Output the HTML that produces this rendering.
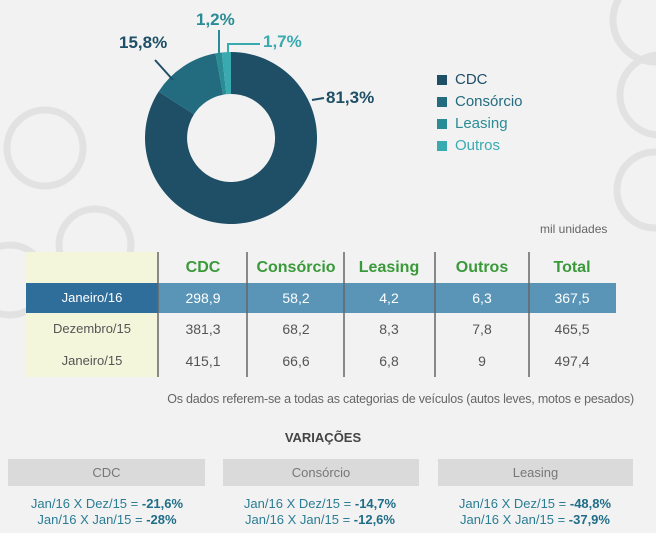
<!DOCTYPE html>
<html><head><meta charset="utf-8"><style>
body{margin:0;width:656px;height:533px;background:#f2f2f2;font-family:"Liberation Sans",sans-serif;overflow:hidden;position:relative}
.a{position:absolute;white-space:nowrap}
.h{color:#3a9a3a;font-weight:bold;font-size:16px;text-align:center;width:90px;margin-left:-45px}
.d{font-size:14px;color:#555;text-align:center;width:90px;margin-left:-45px}
.w{color:#fff}
.gb{position:absolute;background:#dadada;color:#777;font-size:13px;text-align:center;line-height:27px;top:459px;height:27px}
.v{font-size:13px;color:#2a7d95;text-align:center;width:200px;margin-left:-100px}
.v b{color:#1f6d88}
</style></head><body>
<svg class="a" style="left:0;top:0" width="656" height="533">
<g fill="none" stroke="#e2e2e2" stroke-width="7">
<circle cx="45" cy="148" r="38"/><circle cx="95" cy="245" r="36"/><circle cx="655" cy="20" r="42"/><circle cx="660" cy="95" r="40"/><circle cx="655" cy="190" r="38"/><circle cx="10" cy="280" r="35"/>
</g>
<g transform="translate(231,138)">
<path d="M0,-86 A86,86 0 1 1 -72.4,-46.4 L-37,-23.7 A44,44 0 1 0 0,-44Z" fill="#1e4f66"/>
<path d="M-72.4,-46.4 A86,86 0 0 1 -15.5,-84.6 L-7.9,-43.3 A44,44 0 0 0 -37,-23.7Z" fill="#236c80"/>
<path d="M-15.5,-84.6 A86,86 0 0 1 -9.2,-85.5 L-4.7,-43.7 A44,44 0 0 0 -7.9,-43.3Z" fill="#2a8c95"/>
<path d="M-9.2,-85.5 A86,86 0 0 1 0,-86 L0,-44 A44,44 0 0 0 -4.7,-43.7Z" fill="#38aab0"/>
</g>
<g stroke-width="2" fill="none">
<path d="M155,60 L173,80" stroke="#1e4f66"/>
<path d="M219,30 L219,55" stroke="#2a8c95"/>
<path d="M228,56 L228,44 L260,44" stroke="#38aab0"/>
<path d="M312,100 L324,98" stroke="#1e4f66"/>
</g>
<rect x="437" y="75" width="10" height="10" fill="#1e4f66"/>
<rect x="437" y="97" width="10" height="10" fill="#236c80"/>
<rect x="437" y="119" width="10" height="10" fill="#2a8c95"/>
<rect x="437" y="141" width="10" height="10" fill="#38aab0"/>
<rect x="26" y="252" width="132" height="125" fill="#f4f6dc"/>
<rect x="26" y="283" width="590" height="30" fill="#5a95b8"/>
<rect x="26" y="283" width="132" height="30" fill="#2f6d9a"/>
<g stroke="#666" stroke-width="1.5">
<line x1="158" y1="252" x2="158" y2="377"/><line x1="247" y1="252" x2="247" y2="377"/><line x1="344" y1="252" x2="344" y2="377"/><line x1="435" y1="252" x2="435" y2="377"/><line x1="529" y1="252" x2="529" y2="377"/>
</g>
</svg>
<div class="a" style="left:119px;top:33px;font-size:17px;font-weight:bold;color:#1e4f66">15,8%</div>
<div class="a" style="left:196px;top:10px;font-size:17px;font-weight:bold;color:#2a8c95">1,2%</div>
<div class="a" style="left:263px;top:32px;font-size:17px;font-weight:bold;color:#38aab0">1,7%</div>
<div class="a" style="left:326px;top:88px;font-size:17px;font-weight:bold;color:#1e4f66">81,3%</div>
<div class="a" style="left:455px;top:71px;font-size:15px;color:#1e4f66">CDC</div>
<div class="a" style="left:455px;top:93px;font-size:15px;color:#236c80">Consórcio</div>
<div class="a" style="left:455px;top:115px;font-size:15px;color:#2a8c95">Leasing</div>
<div class="a" style="left:455px;top:137px;font-size:15px;color:#38aab0">Outros</div>
<div class="a" style="left:540px;top:222px;font-size:12px;color:#666">mil unidades</div>
<div class="a h" style="left:203px;top:259px">CDC</div>
<div class="a h" style="left:296px;top:259px">Consórcio</div>
<div class="a h" style="left:389px;top:259px">Leasing</div>
<div class="a h" style="left:482px;top:259px">Outros</div>
<div class="a h" style="left:572px;top:259px">Total</div>
<div class="a d w" style="left:92px;top:290px;font-size:13px">Janeiro/16</div>
<div class="a d w" style="left:203px;top:290px">298,9</div><div class="a d w" style="left:296px;top:290px">58,2</div><div class="a d w" style="left:389px;top:290px">4,2</div><div class="a d w" style="left:482px;top:290px">6,3</div><div class="a d w" style="left:572px;top:290px">367,5</div>
<div class="a d" style="left:92px;top:321px;font-size:13px">Dezembro/15</div>
<div class="a d" style="left:203px;top:321px">381,3</div><div class="a d" style="left:296px;top:321px">68,2</div><div class="a d" style="left:389px;top:321px">8,3</div><div class="a d" style="left:482px;top:321px">7,8</div><div class="a d" style="left:572px;top:321px">465,5</div>
<div class="a d" style="left:92px;top:353px;font-size:13px">Janeiro/15</div>
<div class="a d" style="left:203px;top:353px">415,1</div><div class="a d" style="left:296px;top:353px">66,6</div><div class="a d" style="left:389px;top:353px">6,8</div><div class="a d" style="left:482px;top:353px">9</div><div class="a d" style="left:572px;top:353px">497,4</div>
<div class="a" style="right:22px;top:392px;font-size:12.5px;color:#666;letter-spacing:-0.2px">Os dados referem-se a todas as categorias de veículos (autos leves, motos e pesados)</div>
<div class="a" style="left:323px;top:430px;width:100px;margin-left:-50px;text-align:center;font-size:13px;font-weight:bold;color:#444">VARIAÇÕES</div>
<div class="gb" style="left:8px;width:197px">CDC</div>
<div class="gb" style="left:223px;width:196px">Consórcio</div>
<div class="gb" style="left:438px;width:195px">Leasing</div>
<div class="a v" style="left:107px;top:496px">Jan/16 X Dez/15 = <b>-21,6%</b></div>
<div class="a v" style="left:107px;top:512px">Jan/16 X Jan/15 = <b>-28%</b></div>
<div class="a v" style="left:320px;top:496px">Jan/16 X Dez/15 = <b>-14,7%</b></div>
<div class="a v" style="left:320px;top:512px">Jan/16 X Jan/15 = <b>-12,6%</b></div>
<div class="a v" style="left:535px;top:496px">Jan/16 X Dez/15 = <b>-48,8%</b></div>
<div class="a v" style="left:535px;top:512px">Jan/16 X Jan/15 = <b>-37,9%</b></div>
</body></html>
